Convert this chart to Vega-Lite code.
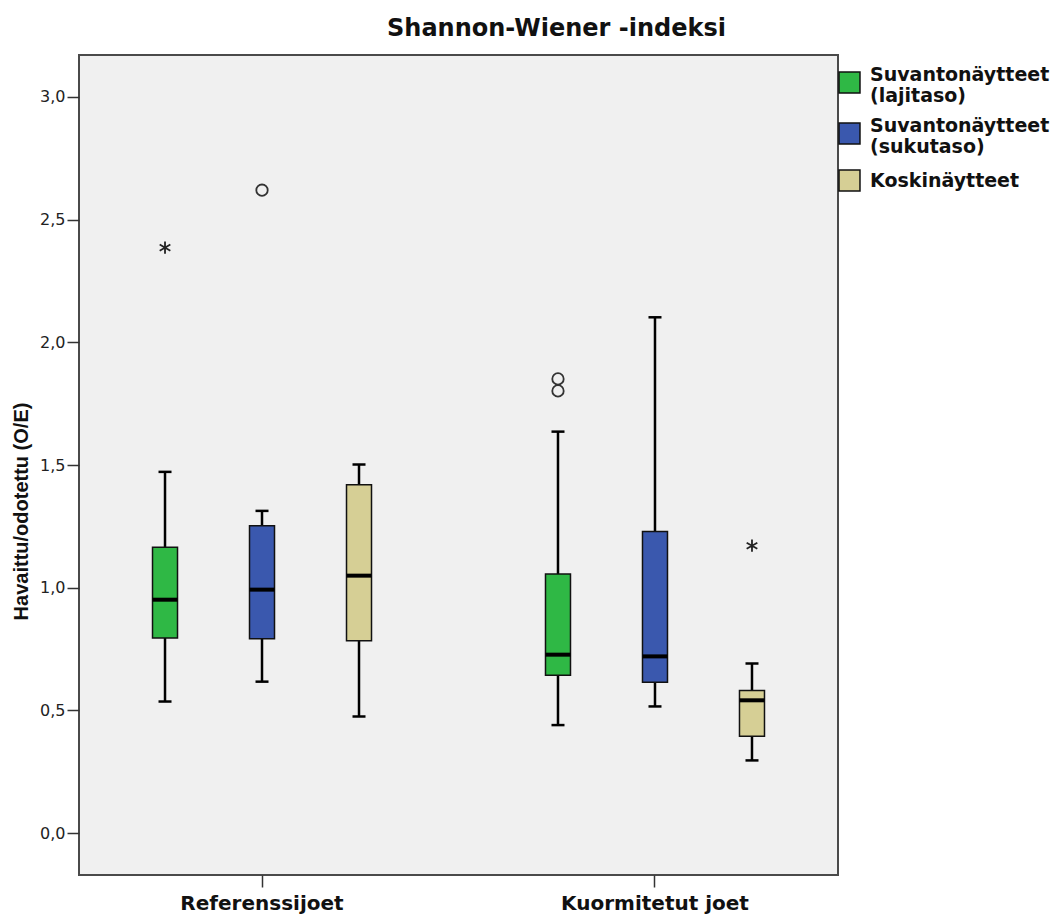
{
  "$schema": "https://vega.github.io/schema/vega-lite/v6.json",
  "autosize": {"type": "none"},
  "padding": {"left": 79, "top": 55, "right": 219, "bottom": 45},
  "width": 759,
  "height": 820,
  "background": "white",
  "title": {
    "text": "Shannon-Wiener -indeksi",
    "font": "DejaVu Sans",
    "fontSize": 24,
    "fontWeight": "bold",
    "color": "#111",
    "anchor": "middle",
    "frame": "group",
    "dx": 98,
    "dy": 27,
    "baseline": "bottom",
    "offset": 17
  },
  "datasets": {
    "boxes": [
      {"group": "Referenssijoet", "type": "Suvantonäytteet (lajitaso)", "lower": 0.536, "q1": 0.795, "median": 0.951, "q3": 1.165, "upper": 1.472},
      {"group": "Referenssijoet", "type": "Suvantonäytteet (sukutaso)", "lower": 0.617, "q1": 0.792, "median": 0.992, "q3": 1.252, "upper": 1.313},
      {"group": "Referenssijoet", "type": "Koskinäytteet", "lower": 0.475, "q1": 0.784, "median": 1.049, "q3": 1.419, "upper": 1.502},
      {"group": "Kuormitetut joet", "type": "Suvantonäytteet (lajitaso)", "lower": 0.44, "q1": 0.643, "median": 0.727, "q3": 1.056, "upper": 1.636},
      {"group": "Kuormitetut joet", "type": "Suvantonäytteet (sukutaso)", "lower": 0.516, "q1": 0.615, "median": 0.72, "q3": 1.229, "upper": 2.102},
      {"group": "Kuormitetut joet", "type": "Koskinäytteet", "lower": 0.296, "q1": 0.395, "median": 0.541, "q3": 0.581, "upper": 0.691}
    ],
    "outliers": [
      {"group": "Referenssijoet", "type": "Suvantonäytteet (lajitaso)", "value": 2.386, "kind": "extreme"},
      {"group": "Referenssijoet", "type": "Suvantonäytteet (sukutaso)", "value": 2.62, "kind": "outlier"},
      {"group": "Kuormitetut joet", "type": "Suvantonäytteet (lajitaso)", "value": 1.851, "kind": "outlier"},
      {"group": "Kuormitetut joet", "type": "Suvantonäytteet (lajitaso)", "value": 1.802, "kind": "outlier"},
      {"group": "Kuormitetut joet", "type": "Koskinäytteet", "value": 1.171, "kind": "extreme"}
    ]
  },
  "encoding": {
    "x": {
      "field": "group",
      "type": "nominal",
      "sort": ["Referenssijoet", "Kuormitetut joet"],
      "scale": {"paddingInner": 0.3, "paddingOuter": 0.1157},
      "axis": {
        "title": null,
        "domain": false,
        "labelAngle": 0,
        "labelFont": "DejaVu Sans",
        "labelFontWeight": "bold",
        "labelFontSize": 20,
        "labelColor": "#111",
        "labelPadding": 6,
        "labelLimit": 400,
        "tickSize": 12,
        "tickWidth": 1.5,
        "tickColor": "#333"
      }
    },
    "xOffset": {
      "field": "type",
      "type": "nominal",
      "sort": ["Suvantonäytteet (lajitaso)", "Suvantonäytteet (sukutaso)", "Koskinäytteet"],
      "scale": {"paddingInner": 0.3, "paddingOuter": 0.068}
    }
  },
  "layer": [
    {
      "data": {"name": "boxes"},
      "mark": {"type": "rule", "color": "#000", "strokeWidth": 2.5},
      "encoding": {
        "y": {
          "field": "lower",
          "type": "quantitative",
          "scale": {"domain": [-0.171, 3.171], "nice": false, "zero": false},
          "axis": {
            "title": "Havaittu/odotettu (O/E)",
            "titleFont": "Liberation Sans",
            "titleFontSize": 20,
            "titleFontWeight": "bold",
            "titleColor": "#111",
            "titlePadding": 8,
            "titleY": 456,
            "titleAlign": "center",
            "values": [0, 0.5, 1, 1.5, 2, 2.5, 3],
            "labelExpr": "replace(format(datum.value, '.1f'), '.', ',')",
            "labelFont": "DejaVu Sans",
            "labelFontSize": 16,
            "labelColor": "#222",
            "labelPadding": 2,
            "tickSize": 12,
            "tickWidth": 1.5,
            "tickColor": "#333",
            "domain": false,
            "grid": false
          }
        },
        "y2": {"field": "upper"}
      }
    },
    {
      "data": {"name": "boxes"},
      "mark": {"type": "tick", "color": "#000", "size": 13, "thickness": 2.5, "opacity": 1},
      "encoding": {"y": {"field": "lower", "type": "quantitative"}}
    },
    {
      "data": {"name": "boxes"},
      "mark": {"type": "tick", "color": "#000", "size": 13, "thickness": 2.5, "opacity": 1},
      "encoding": {"y": {"field": "upper", "type": "quantitative"}}
    },
    {
      "data": {"name": "boxes"},
      "mark": {"type": "bar", "size": 25, "stroke": "#111", "strokeWidth": 1.5, "opacity": 1},
      "encoding": {
        "y": {"field": "q1", "type": "quantitative"},
        "y2": {"field": "q3"},
        "color": {
          "field": "type",
          "type": "nominal",
          "sort": ["Suvantonäytteet (lajitaso)", "Suvantonäytteet (sukutaso)", "Koskinäytteet"],
          "scale": {
            "domain": ["Suvantonäytteet (lajitaso)", "Suvantonäytteet (sukutaso)", "Koskinäytteet"],
            "range": ["#2fb845", "#3a58ae", "#d6cf95"]
          },
          "legend": {
            "title": null,
            "orient": "none",
            "legendX": 759,
            "legendY": 16,
            "padding": 0,
            "symbolType": "square",
            "symbolSize": 440,
            "symbolStrokeColor": "#111",
            "symbolStrokeWidth": 1.5,
            "symbolOpacity": 1,
            "labelExpr": "split(datum.label, ' ')",
            "labelFont": "DejaVu Sans",
            "labelFontWeight": "bold",
            "labelFontSize": 19,
            "labelColor": "#111",
            "labelOffset": 9,
            "labelLimit": 300,
            "rowPadding": 10,
            "encode": {
              "labels": {
                "update": {
                  "dy": {"signal": "indexof(datum.label, ' ') > 0 ? -8 : 0"}
                }
              }
            }
          }
        }
      }
    },
    {
      "data": {"name": "boxes"},
      "mark": {"type": "tick", "color": "#000", "size": 25, "thickness": 4, "opacity": 1},
      "encoding": {"y": {"field": "median", "type": "quantitative"}}
    },
    {
      "data": {"name": "outliers"},
      "transform": [{"filter": "datum.kind == 'outlier'"}],
      "mark": {"type": "point", "shape": "circle", "filled": false, "size": 130, "stroke": "#333", "strokeWidth": 1.8, "opacity": 1},
      "encoding": {"y": {"field": "value", "type": "quantitative"}}
    },
    {
      "data": {"name": "outliers"},
      "transform": [{"filter": "datum.kind == 'extreme'"}],
      "mark": {"type": "point", "shape": "M0,-1L0,1M-0.87,-0.5L0.87,0.5M-0.87,0.5L0.87,-0.5", "filled": false, "size": 150, "stroke": "#222", "strokeWidth": 1.8, "opacity": 1},
      "encoding": {"y": {"field": "value", "type": "quantitative"}}
    }
  ],
  "config": {
    "view": {"fill": "#f0f0f0", "stroke": "#4a4a4a", "strokeWidth": 2}
  }
}
